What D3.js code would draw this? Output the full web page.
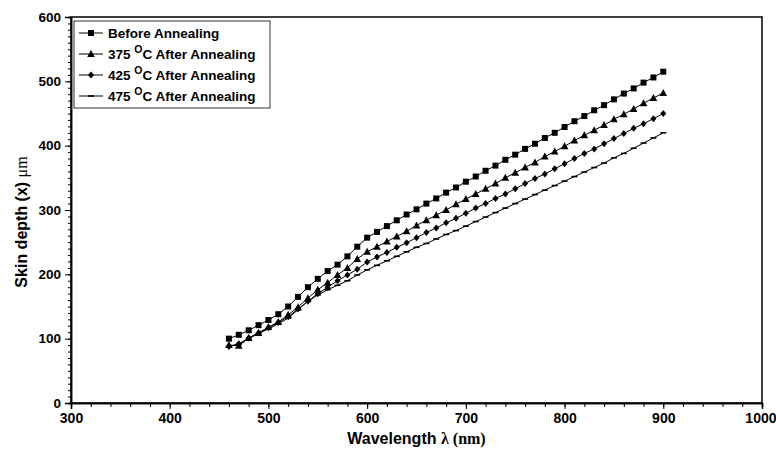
<!DOCTYPE html>
<html><head><meta charset="utf-8">
<script src="https://cdn.jsdelivr.net/npm/d3@7"></script>
<style>body{margin:0;background:#fff}svg{display:block}</style>
</head><body>
<svg id="c" width="776" height="455"></svg>
<script>
const wavelengths = d3.range(460, 901, 10);
const beforeAnnealing = [100,106,113,121,129,138,150,165,180,193,205,215,228,243,257,266,275,284,293,301,310,318,327,335,344,352,361,369,378,386,395,403,412,420,429,438,446,455,463,472,481,489,498,506,515];
const after375 = [90,89,101,109,118,126,137,149,163,176,187,199,210,224,235,243,251,259,267,276,284,292,300,309,317,325,333,341,350,358,366,374,383,391,399,408,416,424,432,441,449,457,466,474,482];
const after425 = [88,92,101,109,117,125,134,146,158,170,180,190,199,208,219,227,234,242,249,257,265,272,280,287,295,303,310,318,325,333,341,349,356,364,372,380,388,395,403,411,419,427,434,442,450];
const after475 = [88,91,100,108,115,123,132,145,158,168,176,183,190,199,207,214,221,228,235,242,248,255,262,268,275,282,289,296,303,310,317,324,331,338,345,352,359,366,373,381,388,396,404,412,420];
const seriesNames = ["Before Annealing","375","425","475"];
const xTicks = [300,400,500,600,700,800,900,1000];
const yTicks = [0,100,200,300,400,500,600];

const svg = d3.select("#c");
const m = {l:71, r:14, t:17, b:52};
const W = 776 - m.l - m.r, H = 455 - m.t - m.b;
const x = d3.scaleLinear().domain([300,1000]).range([m.l, m.l+W]);
const y = d3.scaleLinear().domain([0,600]).range([m.t+H, m.t]);
const font = "'Liberation Sans', Arial, sans-serif";

// frame
svg.append("rect").attr("x",m.l).attr("y",m.t).attr("width",W).attr("height",H)
  .attr("fill","none").attr("stroke","#000").attr("stroke-width",1.5);

// x axis
const gx = svg.append("g").attr("transform",`translate(0,${m.t+H})`);
gx.call(d3.axisBottom(x).tickValues(d3.range(300,1001,20)).tickSize(4).tickFormat(""));
gx.append("g").call(d3.axisBottom(x).tickValues(xTicks).tickSize(6).tickFormat(d3.format("d")));
gx.selectAll("path.domain").attr("stroke","#000").attr("stroke-width",1.5);
gx.selectAll("line").attr("stroke","#000");
gx.selectAll("text").attr("font-family",font).attr("font-weight","bold").attr("font-size",14).attr("fill","#000").attr("dy","0.71em").attr("y",10);
gx.selectAll("text").filter(d=>d===1000).attr("text-anchor","end").attr("x",14);

// y axis
const gy = svg.append("g").attr("transform",`translate(${m.l},0)`);
gy.call(d3.axisLeft(y).tickValues(d3.range(0,601,10)).tickSize(3).tickFormat(""));
gy.append("g").call(d3.axisLeft(y).tickValues(yTicks).tickSize(6).tickFormat(d3.format("d")));
gy.selectAll("path.domain").attr("stroke","#000").attr("stroke-width",1.5);
gy.selectAll("line").attr("stroke","#000");
gy.selectAll("text").attr("font-family",font).attr("font-weight","bold").attr("font-size",13.5).attr("fill","#000").attr("x",-10);

// axis titles
const xt = svg.append("text").attr("x", x(650)).attr("y", 444).attr("text-anchor","middle")
  .attr("font-family",font).attr("font-weight","bold").attr("font-size",16);
xt.append("tspan").text("Wavelength ");
xt.append("tspan").attr("font-family","'Liberation Serif', 'Times New Roman', serif").text("λ (nm)");
const yt = svg.append("text").attr("transform","translate(27,222) rotate(-90)").attr("text-anchor","middle")
  .attr("font-family",font).attr("font-weight","bold").attr("font-size",16);
yt.append("tspan").text("Skin depth (x)  ");
yt.append("tspan").attr("font-weight","normal").attr("font-family","'Liberation Serif', serif").text("μm");

// series
const allSeries = [beforeAnnealing, after375, after425, after475];
const shapes = ["square","triangle","diamond","dash"];
function marker(g, shape, px, py){
  if(shape==="square") g.append("rect").attr("x",px-3).attr("y",py-3).attr("width",6).attr("height",6).attr("fill","#000");
  else if(shape==="triangle") g.append("path").attr("d",`M${px},${py-4}L${px+3.8},${py+3}L${px-3.8},${py+3}Z`).attr("fill","#000");
  else if(shape==="diamond") g.append("path").attr("d",`M${px},${py-3.5}L${px+3},${py}L${px},${py+3.5}L${px-3},${py}Z`).attr("fill","#000");
  else g.append("line").attr("x1",px-3).attr("x2",px+3).attr("y1",py).attr("y2",py).attr("stroke","#000").attr("stroke-width",1.6);
}
const line = d3.line().x((d,i)=>x(wavelengths[i])).y(d=>y(d));
allSeries.forEach((s,k)=>{
  const g = svg.append("g");
  g.append("path").datum(s).attr("d",line).attr("fill","none").attr("stroke","#000").attr("stroke-width",1);
  s.forEach((v,i)=>marker(g, shapes[k], x(wavelengths[i]), y(v)));
});

// legend
const lg = svg.append("g");
lg.append("rect").attr("x",74).attr("y",21).attr("width",196).attr("height",87)
  .attr("fill","#fff").attr("stroke","#333").attr("stroke-width",1);
const ly = [33,54,75,96];
seriesNames.forEach((nm,k)=>{
  lg.append("line").attr("x1",79).attr("x2",103).attr("y1",ly[k]).attr("y2",ly[k]).attr("stroke","#000").attr("stroke-width",1);
  marker(lg, shapes[k], 91, ly[k]);
  const t = lg.append("text").attr("x",108).attr("y",ly[k]+5).attr("font-family",font).attr("font-weight","bold").attr("font-size",13.5);
  if(k===0){ t.text(nm); }
  else {
    t.append("tspan").text(nm+" ");
    t.append("tspan").attr("font-size",10.5).attr("dy",-6).text("O");
    t.append("tspan").attr("dy",6).text("C After Annealing");
  }
});
</script>
</body></html>
